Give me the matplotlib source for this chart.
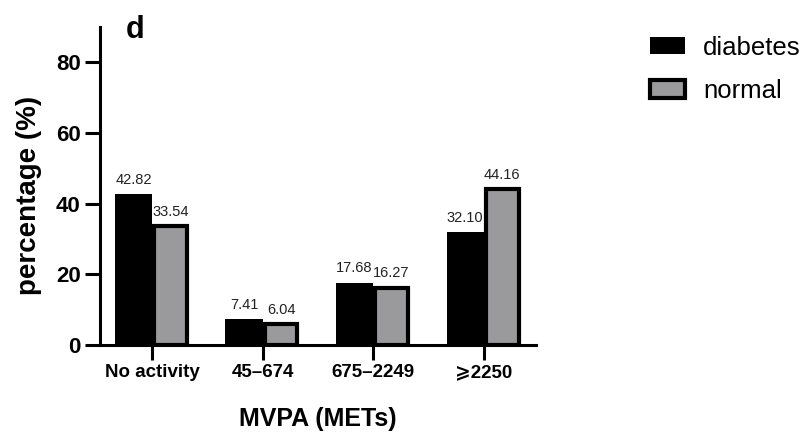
import numpy as np
import matplotlib.pyplot as plt

plt.rcParams["font.family"] = ["Liberation Sans", "DejaVu Sans"]

categories = ["No activity", "45–674", "675–2249", "⩾2250"]
diabetes = [42.82, 7.41, 17.68, 32.10]
normal = [33.54, 6.04, 16.27, 44.16]

fig = plt.figure(figsize=(8.03, 4.32), dpi=100)
ax = fig.add_axes([0.1245, 0.2014, 0.5425, 0.7361])

x = np.arange(len(categories))
w = 0.335
ax.bar(x - w / 2, diabetes, w, color="black", edgecolor="black", linewidth=0, label="diabetes")
# grey bars with heavy outline, inset so outer size matches the black bars
lw = 3.0
inset = lw / 72 * 100 / 111 / 2
ax.bar(x + w / 2, normal, w - 2 * inset, color="#9a9a9c", edgecolor="black",
       linewidth=lw, label="normal")

for xi, d, n in zip(x, diabetes, normal):
    ax.text(xi - w / 2, d + 2.0, f"{d:.2f}", ha="center", va="bottom", fontsize=10.5, color="#222222")
    ax.text(xi + w / 2, n + 2.0, f"{n:.2f}", ha="center", va="bottom", fontsize=10.5, color="#222222")

ax.set_xlim(-0.47, 3.47)
ax.set_ylim(0, 90)
ax.set_yticks([0, 20, 40, 60, 80])
ax.set_xticks(x)
ax.set_xticklabels(categories, fontsize=13.5, fontweight="bold")
for lab in ax.get_yticklabels():
    lab.set_fontsize(16)
    lab.set_fontweight("bold")

for s in ["top", "right"]:
    ax.spines[s].set_visible(False)
for s in ["left", "bottom"]:
    ax.spines[s].set_linewidth(2.2)
ax.tick_params(axis="both", length=11, width=2.2, pad=3)

ax.set_ylabel("percentage (%)", fontsize=20, fontweight="bold")
ax.yaxis.set_label_coords(-0.133, 0.47)
ax.set_xlabel("MVPA (METs)", fontsize=18, fontweight="bold", labelpad=18.5)
ax.text(0.06, 0.99, "d", transform=ax.transAxes, fontsize=22, fontweight="bold",
        ha="left", va="center")

ax.legend(loc="upper left", bbox_to_anchor=(1.21, 1.045), frameon=False, fontsize=18.5,
          handlelength=1.35, handleheight=0.65, handletextpad=0.7, labelspacing=0.75)

plt.savefig("out.png", dpi=100)
plt.close()
